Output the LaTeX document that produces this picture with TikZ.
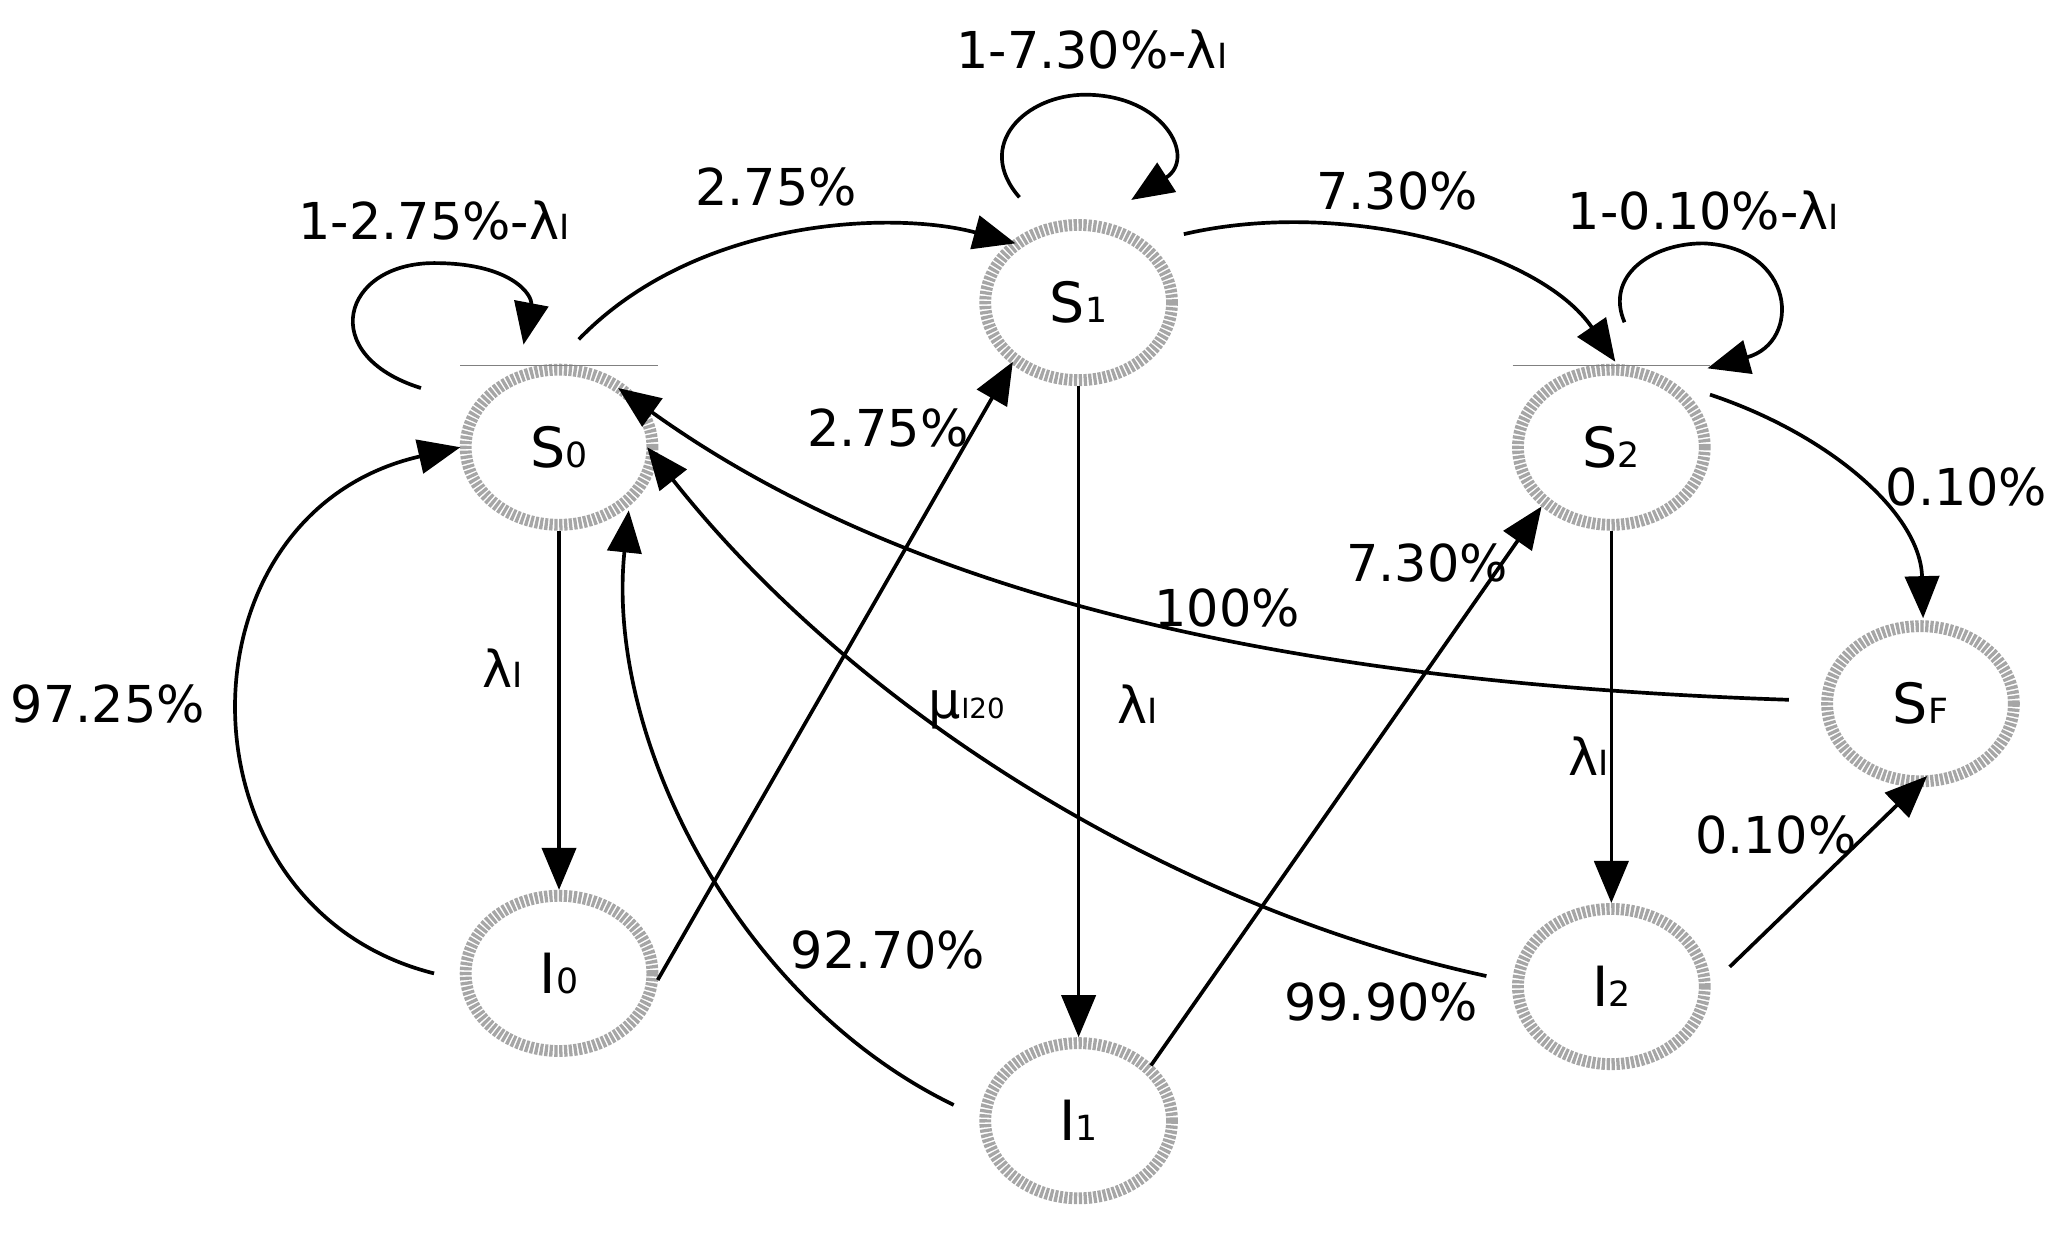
\documentclass[tikz,border=0pt]{standalone}
\usepackage{fontspec}
\setmainfont{DejaVu Sans}
\usetikzlibrary{arrows.meta, shapes.geometric}
\newcommand{\st}[2]{#1{\fontsize{7.5}{7.5}\selectfont #2}}
\begin{document}
\begin{tikzpicture}[
                x = 0.1mm, y = -0.1mm,
                > = {Triangle[length=3.2mm, width=2.6mm]}, % arrow head style
                line width = 0.28mm,
                state/.style = {ellipse, draw = gray!70, line width = 0.9mm,
                dash pattern = on 0.25mm off 0.12mm, fill = white,
                minimum width = 14.2mm, minimum height = 11.8mm, inner sep = 0pt,
                font = \fontsize{12}{12}\selectfont},
                lbl/.style = {font = \fontsize{11}{11}\selectfont}
            ]
            \useasboundingbox (0,0) rectangle (1560,937);

            \node[state] (S0) at (425,340) {\st{S}{0}};
            \node[state] (S1) at (820,230) {\st{S}{1}};
            \node[state] (S2) at (1225,340) {\st{S}{2}};
            \node[state] (SF) at (1460,535) {\st{S}{F}};
            \node[state] (I0) at (425,740) {\st{I}{0}};
            \node[state] (I1) at (820,852) {\st{I}{1}};
            \node[state] (I2) at (1225,750) {\st{I}{2}};

            % thin bars above S0 and S2
            \draw[line width = 0.1mm, gray] (350,278) -- (500,278);
            \draw[line width = 0.1mm, gray] (1150,278) -- (1300,278);

            % self loops
            \draw[->] (320,295) .. controls (240,270) and (260,200) .. (330,200)
                .. controls (390,200) and (405,225) .. (398,262);
            \draw[->] (775,150) .. controls (740,110) and (780,72) .. (825,72)
                .. controls (885,72) and (910,120) .. (860,152);
            \draw[->] (1235,245) .. controls (1220,210) and (1255,185) .. (1295,185)
                .. controls (1365,188) and (1370,260) .. (1298,280);

            % upper transitions
            \draw[->] (440,258) .. controls (530,165) and (680,160) .. (772,185);
            \draw[->] (900,178) .. controls (1020,150) and (1170,190) .. (1228,275);
            \draw[->] (1300,300) .. controls (1390,330) and (1460,390) .. (1462,470);

            % downward transitions
            \draw[->] (S0) -- (I0);
            \draw[->] (S1) -- (I1);
            \draw[->] (S2) -- (I2);

            % returns and jumps
            \draw[->] (330,740) .. controls (130,690) and (130,390) .. (350,340);
            \draw[->] (500,745) -- (770,275);
            \draw[->] (725,840) .. controls (560,760) and (460,560) .. (478,388);
            \draw[->] (875,810) -- (1172,385);
            \draw[->] (1130,742) .. controls (890,690) and (650,540) .. (492,340);
            \draw[->] (1360,532) .. controls (1000,520) and (700,460) .. (470,295);
            \draw[->] (1315,735) -- (1465,590);

            % labels
            \node[lbl] (l00) at (330,168) {1-2.75\%-\st{λ}{I}};
            \node[lbl] (l11) at (830,38) {1-7.30\%-\st{λ}{I}};
            \node[lbl] (l22) at (1295,160) {1-0.10\%-\st{λ}{I}};
            \node[lbl] (l01) at (590,142) {2.75\%};
            \node[lbl] (l12) at (1062,145) {7.30\%};
            \node[lbl] (l2F) at (1495,370) {0.10\%};
            \node[lbl] (lS0) at (382,508) {\st{λ}{I}};
            \node[lbl] (lS1) at (865,535) {\st{λ}{I}};
            \node[lbl] (lS2) at (1208,575) {\st{λ}{I}};
            \node[lbl] (lI0) at (82,535) {97.25\%};
            \node[lbl] (lI01) at (675,325) {2.75\%};
            \node[lbl] (lI1) at (675,722) {92.70\%};
            \node[lbl] (lI12) at (1085,428) {7.30\%};
            \node[lbl] (lI2) at (1050,762) {99.90\%};
            \node[lbl] (lmu) at (735,540) {μ{\fontsize{6}{6}\selectfont I20}};
            \node[lbl] (lF0) at (933,462) {100\%};
            \node[lbl] (lI2F) at (1350,635) {0.10\%};
        \end{tikzpicture}
\end{document}
